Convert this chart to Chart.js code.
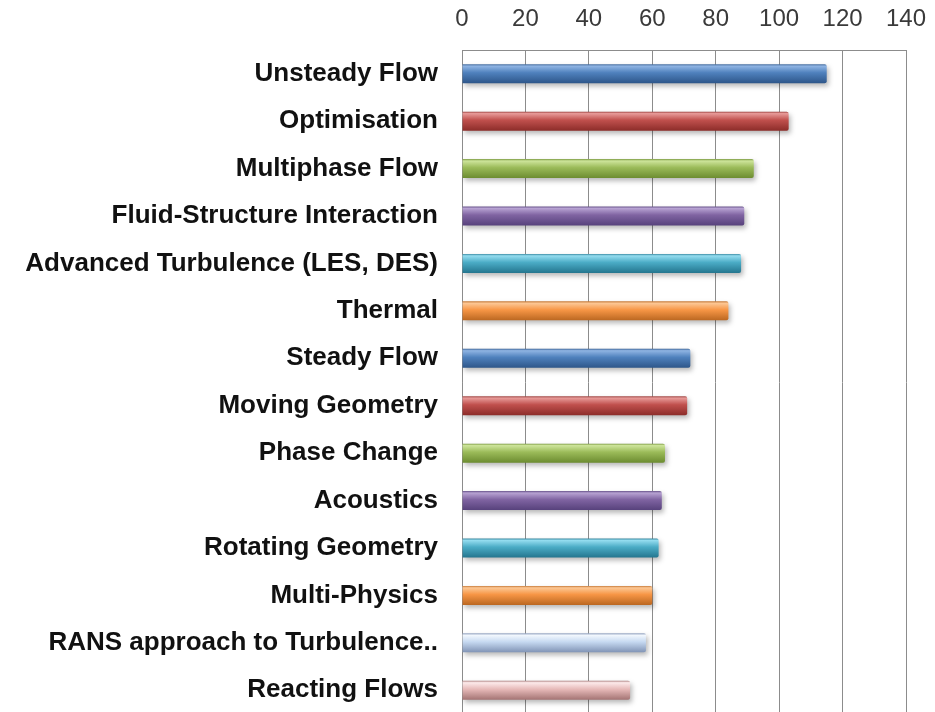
<!DOCTYPE html>
<html>
<head>
<meta charset="utf-8">
<script src="https://cdn.jsdelivr.net/npm/chart.js@4"></script>
<style>
  html, body { margin: 0; padding: 0; background: #fff; overflow: hidden; }
  #wrap { width: 935px; height: 716px; }
</style>
</head>
<body>
<div id="wrap"><canvas id="topicsChart" width="935" height="716"></canvas></div>
<script>
const topics = [
  'Unsteady Flow', 'Optimisation', 'Multiphase Flow', 'Fluid-Structure Interaction',
  'Advanced Turbulence (LES, DES)', 'Thermal', 'Steady Flow', 'Moving Geometry',
  'Phase Change', 'Acoustics', 'Rotating Geometry', 'Multi-Physics',
  'RANS approach to Turbulence..', 'Reacting Flows'
];
const votes = [115, 103, 92, 89, 88, 84, 72, 71, 64, 63, 62, 60, 58, 53];
const axisTicks = [0, 20, 40, 60, 80, 100, 120, 140];

// light / mid / dark tones for each bar (Excel-style cylinder look)
const palette = [
  ['#8fb4e3', '#4f81bd', '#2c5487'],
  ['#e79a98', '#c0504d', '#8a2b28'],
  ['#cde49a', '#9bbb59', '#6a8a2e'],
  ['#b7a2d2', '#8064a2', '#55407a'],
  ['#94dcef', '#4bacc6', '#22738c'],
  ['#fcc794', '#f79646', '#b8651f'],
  ['#8fb4e3', '#4f81bd', '#2c5487'],
  ['#e79a98', '#c0504d', '#8a2b28'],
  ['#cde49a', '#9bbb59', '#6a8a2e'],
  ['#b7a2d2', '#8064a2', '#55407a'],
  ['#94dcef', '#4bacc6', '#22738c'],
  ['#fcc794', '#f79646', '#b8651f'],
  ['#f2f7fd', '#c6d9f1', '#7d90b2'],
  ['#fdeaea', '#e6b9b8', '#a07070']
];

function barFill(ctx) {
  const chart = ctx.chart;
  const tones = palette[ctx.dataIndex % palette.length];
  if (!chart.chartArea || !chart.scales.y) return tones[1];
  const yc = chart.scales.y.getPixelForValue(ctx.dataIndex);
  const g = chart.ctx.createLinearGradient(0, yc - 10, 0, yc + 10);
  g.addColorStop(0, tones[2]);
  g.addColorStop(0.12, tones[0]);
  g.addColorStop(0.45, tones[1]);
  g.addColorStop(1, tones[2]);
  return g;
}

const barShadow = {
  id: 'barShadow',
  beforeDatasetsDraw(chart) {
    const c = chart.ctx;
    c.save();
    c.shadowColor = 'rgba(0,0,0,0.28)';
    c.shadowBlur = 5;
    c.shadowOffsetX = 2;
    c.shadowOffsetY = 3;
  },
  afterDatasetsDraw(chart) {
    chart.ctx.restore();
  }
};

new Chart(document.getElementById('topicsChart').getContext('2d'), {
  type: 'bar',
  data: {
    labels: topics,
    datasets: [{
      data: votes,
      backgroundColor: barFill,
      borderWidth: 0,
      borderRadius: 2,
      borderSkipped: 'start',
      barPercentage: 0.4,
      categoryPercentage: 1
    }]
  },
  plugins: [barShadow],
  options: {
    indexAxis: 'y',
    responsive: false,
    animation: false,
    layout: { padding: { top: 0, right: 29, bottom: 2, left: 0 } },
    plugins: { legend: { display: false }, tooltip: { enabled: false } },
    scales: {
      x: {
        position: 'top',
        min: 0,
        max: 140,
        afterBuildTicks(scale) { scale.ticks = axisTicks.map(v => ({ value: v })); },
        afterFit(scale) {
          scale.height = 50;
          scale.paddingLeft = 0;
          scale.paddingRight = 0;
        },
        ticks: {
          padding: 16,
          color: '#3a3a3a',
          font: { family: 'Liberation Sans, Arial, sans-serif', size: 24 }
        },
        grid: { color: '#8c8c8c', lineWidth: 1, drawTicks: false },
        border: { display: true, color: '#8c8c8c' }
      },
      y: {
        afterFit(scale) {
          scale.width = 462;
          scale.paddingTop = 0;
          scale.paddingBottom = 0;
        },
        ticks: {
          padding: 16,
          color: '#111',
          font: { family: 'Liberation Sans, Arial, sans-serif', size: 26, weight: 'bold' }
        },
        grid: { display: false },
        border: { display: true, color: '#8c8c8c' }
      }
    }
  }
});
</script>
</body>
</html>
